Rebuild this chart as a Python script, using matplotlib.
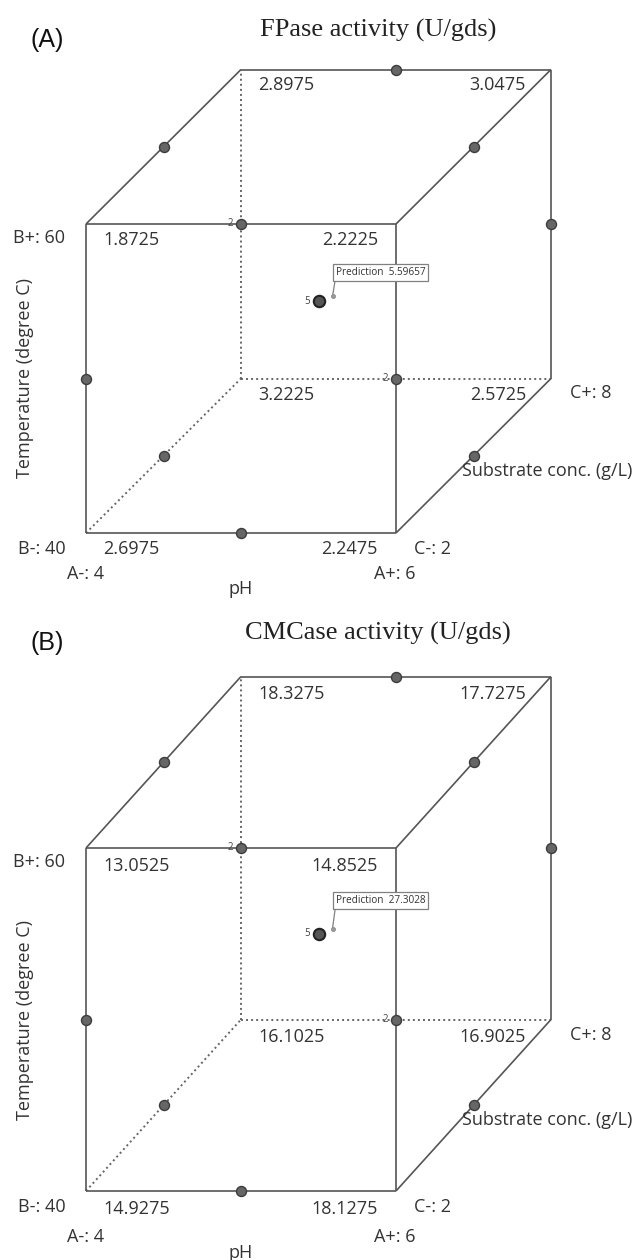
import numpy as np
import matplotlib.pyplot as plt
from matplotlib.transforms import offset_copy

# ==============================
# Data (coded factor levels, cube design)
# ==============================
corners = [(-1, -1, -1), (1, -1, -1), (-1, 1, -1), (1, 1, -1),
           (-1, -1, 1), (1, -1, 1), (-1, 1, 1), (1, 1, 1)]
fpase_corner = [2.6975, 2.2475, 1.8725, 2.2225, 3.2225, 2.5725, 2.8975, 3.0475]
cmcase_corner = [14.9275, 18.1275, 13.0525, 14.8525, 16.1025, 16.9025, 18.3275, 17.7275]

edge_runs = [(0, -1, -1), (0, 1, -1), (0, -1, 1), (0, 1, 1),
             (-1, 0, -1), (1, 0, -1), (-1, 0, 1), (1, 0, 1),
             (-1, -1, 0), (1, -1, 0), (-1, 1, 0), (1, 1, 0)]
center_run = (0, 0, 0)
center_reps = 5

fpase_pred = 5.59657
cmcase_pred = 27.3028

titles = ["FPase activity (U/gds)", "CMCase activity (U/gds)"]
panel_letters = ["(A)", "(B)"]
factor_names = ["pH", "Temperature (degree C)", "Substrate conc. (g/L)"]
factor_low = [4, 40, 2]
factor_high = [6, 60, 8]

# ==============================
# Layout / style
# ==============================
DPI = 100
W, H = 644, 1260
DEPTH = 0.5
LINE = "#555555"
TXT = "#333333"
NUMFONT = "Open Sans"

plt.rcParams["font.family"] = ["Open Sans", "DejaVu Sans"]


def pt(v):
    # pixels -> points
    return v * 72 / DPI


def proj(p):
    a, b, c = p
    return a + DEPTH * (c + 1), b + DEPTH * (c + 1)


fig = plt.figure(figsize=(W / DPI, H / DPI), dpi=DPI)


def draw_panel(top_px, bot_px, x0, x1, yt, yb, values, pred, title, letter,
               title_y, letter_y):
    ax = fig.add_axes([0, 1 - bot_px / H, 1, (bot_px - top_px) / H])
    sx = (x1 - x0) / 2
    sy = (yb - yt) / 2
    k = sy / 154.5
    ax.set_xlim(-1 - x0 / sx, -1 + (W - x0) / sx)
    ax.set_ylim(-1 - (bot_px - yb) / sy, 1 + (yt - top_px) / sy)
    ax.axis("off")

    # edges of the cube
    hidden = (-1, -1, 1)
    for i, p in enumerate(corners):
        for q in corners[i + 1:]:
            if sum(u != v for u, v in zip(p, q)) != 1:
                continue
            (xa, ya), (xb, yb2) = proj(p), proj(q)
            if hidden in (p, q):
                ax.plot([xa, xb], [ya, yb2], color="#666666", lw=1.4,
                        ls=(0, (1.0, 1.6)), zorder=1)
            else:
                ax.plot([xa, xb], [ya, yb2], color=LINE, lw=1.2,
                        solid_capstyle="butt", zorder=2)

    # corner responses
    for p, v in zip(corners, values):
        x, y = proj(p)
        if p[0] < 0:
            dx, ha = 17, "left"
        else:
            dx, ha = (-18 if p[2] < 0 else -25), "right"
        ax.annotate(f"{v:.4f}", (x, y), xytext=(pt(dx), pt(-16 * k)),
                    textcoords="offset points", ha=ha, va="center",
                    fontsize=13, color=TXT, family=NUMFONT)

    # design points on edges (count overlapping ones)
    pts = {}
    for r in edge_runs:
        key = tuple(np.round(proj(r), 6))
        pts[key] = pts.get(key, 0) + 1
    for (x, y), n in pts.items():
        ax.plot(x, y, "o", ms=7.2, mfc="#666666", mec="#3c3c3c", mew=1.0, zorder=5)
        if n > 1:
            ax.annotate(str(n), (x, y), xytext=(pt(-8), 0), textcoords="offset points",
                        ha="right", va="center", fontsize=7, color="#444444")

    cx, cy = proj(center_run)
    ax.plot(cx, cy, "o", ms=8.2, mfc="#555555", mec="#222222", mew=1.5, zorder=5)
    ax.annotate(str(center_reps), (cx, cy), xytext=(pt(-9), 0), textcoords="offset points",
                ha="right", va="center", fontsize=7, color="#444444")

    # prediction flag
    tr = offset_copy(ax.transData, fig=fig, x=pt(14), y=pt(5), units="points")
    ax.plot(cx, cy, "o", ms=3, mfc="#999999", mec="#888888", mew=0.5,
            transform=tr, zorder=6)
    fs = 7.2
    ax.annotate(f"Prediction  {pred:g}", (cx, cy), xycoords=tr,
                xytext=(0.3 * fs, pt(18 + 40 * (k - 1))), textcoords="offset points",
                ha="left", va="bottom", fontsize=fs, color=TXT,
                bbox=dict(boxstyle="square,pad=0.3", fc="white", ec="#808080", lw=0.9),
                arrowprops=dict(arrowstyle="-", color="#808080", lw=0.9,
                                relpos=(0, 0), shrinkA=0, shrinkB=0))

    # factor labels
    lab = dict(textcoords="offset points", fontsize=13, color=TXT, family=NUMFONT)
    ax.annotate(f"A-: {factor_low[0]}", proj((-1, -1, -1)), xytext=(0, pt(-41 * k)),
                ha="center", va="center", **lab)
    ax.annotate(f"A+: {factor_high[0]}", proj((1, -1, -1)), xytext=(pt(-1), pt(-41 * k)),
                ha="center", va="center", **lab)
    ax.annotate(f"B-: {factor_low[1]}", proj((-1, -1, -1)), xytext=(pt(-20), pt(-16)),
                ha="right", va="center", **lab)
    ax.annotate(f"B+: {factor_high[1]}", proj((-1, 1, -1)), xytext=(pt(-21), pt(-14)),
                ha="right", va="center", **lab)
    ax.annotate(f"C-: {factor_low[2]}", proj((1, -1, -1)), xytext=(pt(18), pt(-16)),
                ha="left", va="center", **lab)
    ax.annotate(f"C+: {factor_high[2]}", proj((1, -1, 1)), xytext=(pt(19), pt(-15)),
                ha="left", va="center", **lab)
    ax.annotate(factor_names[0], proj((0, -1, -1)), xytext=(0, pt(-56 * k)),
                ha="center", va="center", **lab)
    ax.annotate(factor_names[1], proj((-1, 0, -1)), xytext=(pt(-61), 0),
                ha="center", va="center", rotation=90, **lab)
    ax.annotate(factor_names[2], proj((1, -1, 0)), xytext=(pt(-12), pt(-15)),
                ha="left", va="center", **lab)

    fig.text(378 / W, 1 - title_y / H, title, ha="center", va="center",
             fontsize=19, family="Liberation Serif", color="#222222")
    fig.text(47 / W, 1 - letter_y / H, letter, ha="center", va="center",
             fontsize=18, family="Liberation Sans", color="#111111")


draw_panel(0, 630, 86, 396, 224, 533, fpase_corner, fpase_pred,
           titles[0], panel_letters[0], 30, 40)
draw_panel(630, 1260, 86, 396, 848, 1191, cmcase_corner, cmcase_pred,
           titles[1], panel_letters[1], 633, 643)

fig.savefig("out.png", dpi=DPI)
